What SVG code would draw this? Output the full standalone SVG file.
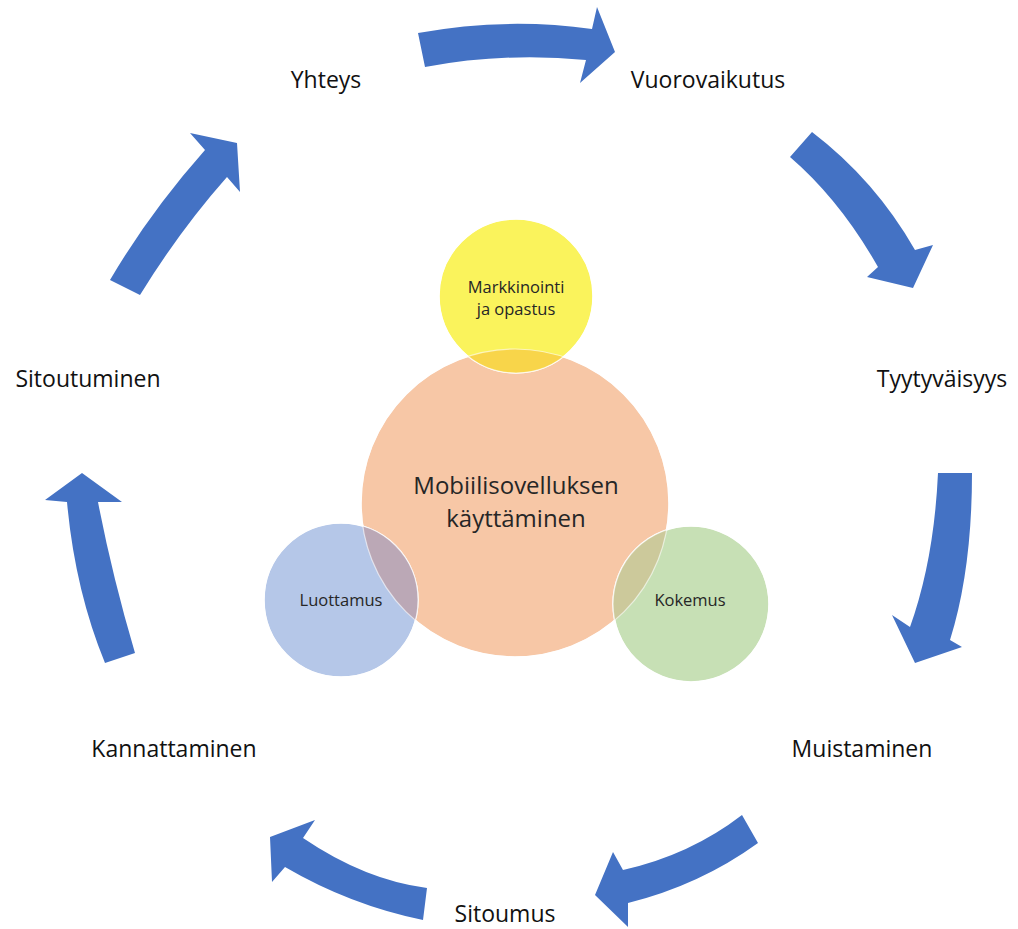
<svg xmlns="http://www.w3.org/2000/svg" width="1018" height="929" viewBox="0 0 1018 929">
  <style>
    .arrow { fill: #4472C4; }
    .label { font-family: "Open Sans", "Liberation Sans", sans-serif; font-size: 23px; fill: #111; text-anchor: middle; }
    .inner { font-family: "Open Sans", "Liberation Sans", sans-serif; fill: #262626; text-anchor: middle; }
    .ring { stroke: #ffffff; stroke-width: 1.5; }
  </style>
  <defs>
    <clipPath id="core-clip">
      <circle cx="515" cy="503" r="154"/>
    </clipPath>
  </defs>
  <rect width="1018" height="929" fill="#ffffff"/>

  <!-- cycle arrows -->
  <g id="connectors">
    <path class="arrow" d="M418,33 Q505,17 592,29 L597,7 L615,52 L580,83 L586,60 Q505,52 425,67 Z"/>
    <path class="arrow" d="M812,132 Q875,180 915,250 L933,245 L913,288 L867,277 L878,267 Q840,200 790,157 Z"/>
    <path class="arrow" d="M938,473 L972,473 Q972,570 950,640 L962,647 L915,663 L892,615 L910,627 Q934,560 938,473 Z"/>
    <path class="arrow" d="M742,815 L758,843 Q700,885 628,903 L628,927 L595,895 L613,852 L623,870 Q690,855 742,815 Z"/>
    <path class="arrow" d="M427,888 L423,920 Q350,905 285,867 L272,882 L270,837 L315,820 L303,838 Q365,880 427,888 Z"/>
    <path class="arrow" d="M105,663 L135,653 Q112,575 98,502 L122,502 L82,473 L45,500 L67,502 Q75,590 105,663 Z"/>
    <path class="arrow" d="M110,280 Q150,212 205,150 L190,133 L237,143 L240,192 L227,177 Q180,230 140,295 Z"/>
  </g>

  <!-- cycle labels -->
  <g id="yhteys"><text class="label" x="326" y="88">Yhteys</text></g>
  <g id="vuorovaikutus"><text class="label" x="708" y="88">Vuorovaikutus</text></g>
  <g id="tyytyvaisyys"><text class="label" x="942" y="387">Tyytyväisyys</text></g>
  <g id="muistaminen"><text class="label" x="862" y="757">Muistaminen</text></g>
  <g id="sitoumus"><text class="label" x="505" y="922">Sitoumus</text></g>
  <g id="kannattaminen"><text class="label" x="174" y="757">Kannattaminen</text></g>
  <g id="sitoutuminen"><text class="label" x="88" y="387">Sitoutuminen</text></g>

  <!-- central venn -->
  <g id="mobiilisovelluksen-kayttaminen">
    <circle class="ring" cx="515" cy="503" r="154" fill="#F7C7A6"/>
  </g>
  <g id="markkinointi">
    <circle class="ring" cx="516" cy="296" r="77" fill="#FAF35C"/>
    <circle cx="516" cy="296" r="77" fill="#F8D54A" clip-path="url(#core-clip)"/>
  </g>
  <g id="luottamus">
    <circle class="ring" cx="341" cy="600" r="77" fill="#B5C7E8"/>
    <circle cx="341" cy="600" r="77" fill="#BBA8B6" clip-path="url(#core-clip)"/>
  </g>
  <g id="kokemus">
    <circle class="ring" cx="691" cy="604" r="78" fill="#C7E0B5"/>
    <circle cx="691" cy="604" r="78" fill="#CCC99B" clip-path="url(#core-clip)"/>
  </g>
  <!-- faint outlines over the overlaps -->
  <g id="outlines" fill="none" stroke="#ffffff" stroke-opacity="0.6" stroke-width="1.2">
    <circle cx="515" cy="503" r="154"/>
    <circle cx="516" cy="296" r="77"/>
    <circle cx="341" cy="600" r="77"/>
    <circle cx="691" cy="604" r="78"/>
  </g>

  <g id="venn-texts">
    <text class="inner" font-size="24" x="516" y="494">Mobiilisovelluksen</text>
    <text class="inner" font-size="24" x="516" y="527">käyttäminen</text>
    <text class="inner" font-size="16.5" x="516" y="293">Markkinointi</text>
    <text class="inner" font-size="16.5" x="516" y="315">ja opastus</text>
    <text class="inner" font-size="16.5" x="341" y="606">Luottamus</text>
    <text class="inner" font-size="16.5" x="690" y="606">Kokemus</text>
  </g>
</svg>
